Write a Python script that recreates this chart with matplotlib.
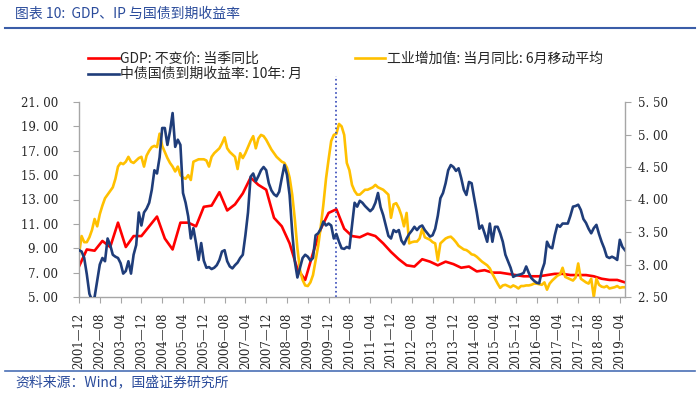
import numpy as np
import pandas as pd
import matplotlib
matplotlib.use("Agg")
import matplotlib.pyplot as plt
from matplotlib.lines import Line2D
from matplotlib.font_manager import FontProperties

cjk = ['Noto Sans CJK SC', 'DejaVu Sans']
plt.rcParams['font.family'] = cjk

# monthly axis: 2001-12 .. 2019-06
months = pd.date_range('2001-12-01', '2019-06-01', freq='MS')

# 工业增加值:当月同比:6月移动平均 (%), monthly
ip_ma6 = [8.5,
          10.0, 9.5, 9.5, 9.9, 10.5, 11.4, 10.8, 11.8, 12.5, 13.1, 13.4, 13.7,
          14.0, 14.7, 15.7, 16.0, 15.9, 16.1, 16.5, 16.1, 16.0, 16.2, 16.4, 16.5,
          15.7, 16.6, 17.0, 17.3, 17.4, 17.3, 18.4, 17.4, 16.9, 16.4, 16.0, 15.7,
          15.3, 15.7, 15.0, 14.8, 14.7, 15.0, 14.6, 16.1, 16.2, 16.3, 16.3, 16.3,
          16.2, 15.7, 16.5, 16.8, 17.0, 17.2, 17.6, 18.1, 17.2, 16.9, 16.7, 16.5,
          15.5, 16.8, 16.4, 16.8, 17.3, 17.8, 18.2, 17.2, 18.0, 18.3, 18.2, 17.9,
          17.5, 17.1, 16.8, 16.5, 16.3, 16.1, 16.0, 15.6, 14.8, 13.4, 11.4, 9.0,
          7.2, 6.4, 5.95, 5.9, 6.2, 6.8, 8.0, 9.2, 10.8, 12.6, 14.7, 16.3,
          17.8, 18.3, 18.4, 19.2, 19.0, 18.3, 16.0, 15.4, 14.2, 13.7, 13.4, 13.4,
          13.6, 13.8, 13.8, 13.9, 14.0, 14.2, 14.0, 13.9, 13.8, 13.6, 13.4, 11.5,
          12.6, 12.7, 12.3, 11.7, 10.8, 11.9, 9.4, 9.5, 9.55, 9.55, 9.8, 10.6,
          9.9, 9.8, 9.7, 9.5, 9.4, 8.0, 9.4, 9.6, 9.8, 9.9, 9.95, 9.75,
          9.5, 9.2, 9.05, 8.9, 8.85, 8.7, 8.5, 8.45, 8.3, 8.1, 7.9, 7.75,
          7.6, 7.35, 6.9, 6.5, 6.1, 5.75, 5.95, 6.0, 5.9, 5.8, 5.95, 5.85,
          5.7, 5.9, 5.9, 5.95, 5.95, 6.0, 6.1, 6.1, 6.05, 6.0, 6.2, 5.6,
          6.1, 6.35, 6.55, 6.75, 6.85, 7.4, 6.65, 6.55, 6.45, 6.35, 6.6, 7.75,
          6.5, 6.35, 6.2, 6.1, 6.5, 5.0, 6.5, 6.0, 5.85, 5.8, 5.9, 5.7,
          5.75, 5.8, 5.9, 5.75, 5.8, 5.8]

# 中债国债到期收益率:10年:月 (%), monthly
bond_10y = [3.22,
            3.20, 3.10, 2.85, 2.55, 2.45, 2.50, 2.75, 3.00, 3.10, 3.05, 3.40, 3.30,
            3.15, 3.12, 3.10, 3.02, 2.86, 2.90, 3.05, 2.86, 3.15, 3.30, 3.80, 3.60,
            3.80, 3.86, 3.95, 4.15, 4.45, 4.40, 4.65, 5.10, 5.10, 4.84, 5.05, 5.33,
            4.81, 4.92, 4.84, 4.10, 3.95, 3.74, 3.40, 3.56, 3.33, 3.07, 3.33, 3.06,
            2.95, 2.96, 2.93, 2.95, 2.99, 3.07, 3.20, 3.22, 3.05, 2.97, 2.94, 2.99,
            3.03, 3.10, 3.15, 3.45, 3.80, 4.35, 4.40, 4.28, 4.36, 4.45, 4.50, 4.45,
            4.25, 4.14, 4.08, 4.05, 4.12, 4.33, 4.53, 4.38, 4.07, 3.50, 3.05, 2.80,
            2.95, 3.10, 3.15, 3.12, 3.06, 3.10, 3.45, 3.48, 3.55, 3.66, 3.60, 3.63,
            3.60, 3.40, 3.47, 3.35, 3.25, 3.24, 3.27, 3.25, 3.60, 3.95, 3.89, 3.98,
            3.95, 3.90, 3.86, 3.82, 3.86, 3.95, 4.10, 3.88, 3.76, 3.60, 3.44, 3.40,
            3.53, 3.50, 3.53, 3.37, 3.31, 3.40, 3.47, 3.52, 3.58, 3.53, 3.58, 3.60,
            3.53, 3.48, 3.43, 3.45, 3.55, 3.75, 4.02, 4.10, 4.25, 4.45, 4.53, 4.50,
            4.44, 4.48, 4.33, 4.15, 4.07, 4.27, 4.25, 4.02, 3.80, 3.55, 3.60, 3.48,
            3.35, 3.63, 3.35, 3.58, 3.58, 3.48, 3.35, 3.15, 3.05, 2.95, 2.81, 2.83,
            2.84, 2.85, 2.87, 2.97, 2.87, 2.79, 2.75, 2.72, 2.71, 2.90, 3.02, 3.35,
            3.27, 3.25, 3.45, 3.61, 3.58, 3.63, 3.63, 3.63, 3.75, 3.89, 3.90, 3.92,
            3.84, 3.70, 3.64, 3.55, 3.48, 3.56, 3.61, 3.47, 3.35, 3.25, 3.12, 3.10,
            3.12, 3.10, 3.07, 3.38, 3.27, 3.22]

# GDP:不变价:当季同比 (%), quarterly 2001Q4 .. 2019Q2
gdp_q = [7.5,
         8.9, 8.8, 9.6, 9.1,
         11.1, 9.1, 10.0, 10.0,
         10.8, 11.6, 9.8, 8.9,
         11.1, 11.1, 10.8, 12.4,
         12.5, 13.6, 12.1, 12.6,
         13.5, 14.8, 14.2, 13.8,
         11.5, 10.8, 9.4, 7.3,
         6.4, 8.6, 10.6, 11.9,
         12.2, 10.6, 10.0, 9.9,
         10.2, 10.0, 9.4, 8.7,
         8.1, 7.6, 7.5, 8.1,
         7.9, 7.6, 7.9, 7.7,
         7.4, 7.5, 7.1, 7.2,
         7.0, 7.0, 6.9, 6.8,
         6.7, 6.7, 6.7, 6.8,
         6.9, 6.9, 6.8, 6.8,
         6.8, 6.7, 6.5, 6.4,
         6.4, 6.2]
gdp_months = pd.date_range('2001-12-01', '2019-06-01', freq='3MS')

marker_month = pd.Timestamp('2010-03-01')

left_ticks = [5, 7, 9, 11, 13, 15, 17, 19, 21]
right_ticks = [2.5, 3.0, 3.5, 4.0, 4.5, 5.0, 5.5]

x = np.arange(len(months))
gdp_x = months.get_indexer(gdp_months)

c_gdp = '#FF0000'
c_ip = '#FFC000'
c_bond = '#1F3D7A'
c_axis = '#A6A6A6'
c_text = '#262626'
c_brand = '#2A4B9B'

fig = plt.figure(figsize=(7, 3.95), dpi=100)
ax = fig.add_axes([79 / 700, 1 - 297 / 395, 546 / 700, 195 / 395])
ax2 = ax.twinx()

l_gdp, = ax.plot(gdp_x, gdp_q, color=c_gdp, lw=1.9, label='GDP: 不变价: 当季同比')
l_ip, = ax.plot(x, ip_ma6, color=c_ip, lw=1.9, label='工业增加值: 当月同比: 6月移动平均')
l_bond, = ax2.plot(x, bond_10y, color=c_bond, lw=1.9, label='中债国债到期收益率: 10年: 月')

mx = months.get_loc(marker_month)
ax.axvline(mx, ymin=0, ymax=1.135, color='#3347B8', ls=':', lw=1.2, clip_on=False)

ax.set_xlim(0, len(months) - 1)
ax.set_ylim(5, 21)
ax2.set_ylim(2.5, 5.5)

serif = dict(fontfamily='DejaVu Serif', fontsize=8.5, color=c_text)
ax.set_yticks(left_ticks, [f'{v:.2f}'.replace('.', '. ') for v in left_ticks], **serif)
ax2.set_yticks(right_ticks, [f'{v:.2f}'.replace('.', '. ') for v in right_ticks], **serif)
ax.set_xticks(x[::8], [d.strftime('%Y') + '—' + d.strftime('%m') for d in months[::8]],
              rotation=90, **serif)

for a in (ax, ax2):
    a.spines['top'].set_visible(False)
    for s in ('left', 'right', 'bottom'):
        a.spines[s].set_color(c_axis)
        a.spines[s].set_linewidth(1.0)
ax.spines['right'].set_visible(False)
ax2.spines['left'].set_visible(False)
ax2.spines['bottom'].set_visible(False)

ax.tick_params(axis='y', direction='out', length=4, color=c_axis, pad=11)
ax2.tick_params(axis='y', direction='out', length=4, color=c_axis, pad=5)
ax.tick_params(axis='x', direction='out', length=4, color=c_axis, pad=7)

fig.legend(handles=[l_gdp, l_bond, l_ip], ncol=2, loc='upper left',
           bbox_to_anchor=(88 / 700, 1 - 52 / 395), frameon=False,
           borderpad=0, borderaxespad=0, handlelength=2.2, handletextpad=0.1,
           columnspacing=3.8, labelspacing=0.1, labelcolor=c_text,
           prop=FontProperties(family=cjk, size=10))

fig.text(15 / 700, 1 - 14 / 395, '图表 10:  GDP、IP 与国债到期收益率', color=c_brand,
         fontsize=10, va='center', ha='left', style='italic')
fig.add_artist(Line2D([5 / 700, 695 / 700], [1 - 27.5 / 395] * 2, transform=fig.transFigure,
                      color='#3A5DA8', lw=1.5))
fig.add_artist(Line2D([5 / 700, 695 / 700], [1 - 371 / 395] * 2, transform=fig.transFigure,
                      color='#4A6FB5', lw=1.2))
fig.text(15 / 700, 1 - 382 / 395, '资料来源：Wind，国盛证券研究所', color=c_brand,
         fontsize=10, va='center', ha='left', style='italic')

fig.savefig('out.png', dpi=100)
